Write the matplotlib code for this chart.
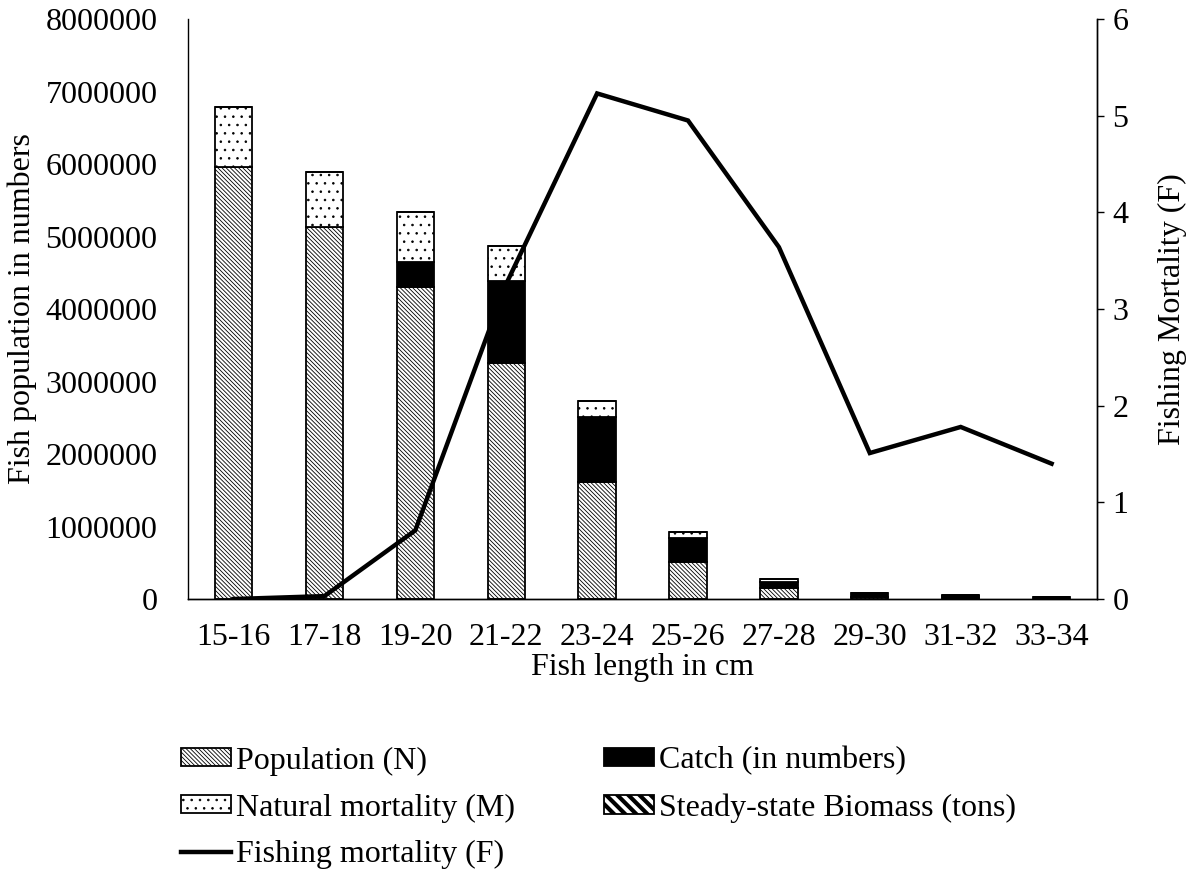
import matplotlib
matplotlib.use('Agg')
import matplotlib.pyplot as plt
import numpy as np

plt.rcParams['font.family'] = ['Liberation Serif', 'DejaVu Serif']
plt.rcParams['hatch.linewidth'] = 0.6

# length classes
lengths = ['15-16', '17-18', '19-20', '21-22', '23-24',
           '25-26', '27-28', '29-30', '31-32', '33-34']

# stacked bar parts (numbers of fish)
population = [5960000, 5130000, 4300000, 3250000, 1610000,
              510000, 150000, 30000, 10000, 5000]
catch = [0, 0, 350000, 1140000, 900000,
         330000, 80000, 50000, 35000, 18000]
natural_mort = [830000, 760000, 690000, 480000, 220000,
                80000, 40000, 7000, 5000, 3000]
biomass = [0, 0, 0, 0, 0, 0, 0, 0, 0, 0]

# fishing mortality F
fishing_mort = [0.0, 0.03, 0.71, 3.26, 5.23, 4.95, 3.64, 1.51, 1.78, 1.40]

fig = plt.figure(figsize=(11.94, 8.8), dpi=100)
ax = fig.add_axes([0.1575, 0.3193, 0.7613, 0.6591])
ax2 = ax.twinx()

x = np.arange(len(lengths))
w = 0.41
fs = 23

pop = np.array(population)
cat = np.array(catch)
nat = np.array(natural_mort)

b1 = ax.bar(x, pop, w, color='white', edgecolor='black', linewidth=1.3,
            hatch='\\' * 8, label='Population (N)')
b2 = ax.bar(x, cat, w, bottom=pop, color='black', edgecolor='black',
            linewidth=1.3, label='Catch (in numbers)')
b3 = ax.bar(x, nat, w, bottom=pop + cat, color='white', edgecolor='black',
            linewidth=1.3, hatch='..', label='Natural mortality (M)')
b4 = ax.bar(x, biomass, w, bottom=pop + cat + nat, color='white',
            edgecolor='black', linewidth=1.3, hatch='\\\\\\',
            label='Steady-state Biomass (tons)')
for p in b4.patches:
    if hasattr(p, 'set_hatch_linewidth'):
        p.set_hatch_linewidth(3.0)

ln, = ax2.plot(x, fishing_mort, color='black', linewidth=3.2,
               solid_joinstyle='miter', label='Fishing mortality (F)')

ax.set_xlim(-0.5, len(lengths) - 0.5)
ax.set_ylim(0, 8000000)
ax.set_yticks(np.arange(0, 8000001, 1000000))
ax.set_yticklabels([str(v) for v in range(0, 8000001, 1000000)])
ax2.set_ylim(0, 6)
ax2.set_yticks(range(7))

ax.set_xticks(x)
ax.set_xticklabels(lengths)
ax.tick_params(axis='x', length=0, labelsize=fs, pad=17)
ax.tick_params(axis='y', length=0, labelsize=fs, pad=22)
ax2.tick_params(axis='y', length=5, width=1, labelsize=fs, pad=6)

for a in (ax, ax2):
    a.spines['top'].set_visible(False)
    for s in a.spines.values():
        s.set_linewidth(1.0)
ax2.spines['left'].set_visible(False)

ax.set_xlabel('Fish length in cm', fontsize=fs, labelpad=1)
ax.set_ylabel('Fish population in numbers', fontsize=fs, labelpad=6)
ax2.set_ylabel('Fishing Mortality (F)', fontsize=fs, labelpad=21)

handles = [b1, b3, ln, b2, b4]
leg = fig.legend(handles, [h.get_label() for h in handles], ncol=2,
                 loc='upper left', bbox_to_anchor=(0.152, 0.152),
                 frameon=False, fontsize=fs, handlelength=1.55,
                 handleheight=0.5, handletextpad=0.15, labelspacing=0.56,
                 columnspacing=2.8, borderaxespad=0, borderpad=0)
for h in leg.legend_handles:
    if hasattr(h, 'get_hatch') and h.get_hatch() == '\\\\\\' and hasattr(h, 'set_hatch_linewidth'):
        h.set_hatch_linewidth(3.0)

fig.savefig('out.png', dpi=100)
